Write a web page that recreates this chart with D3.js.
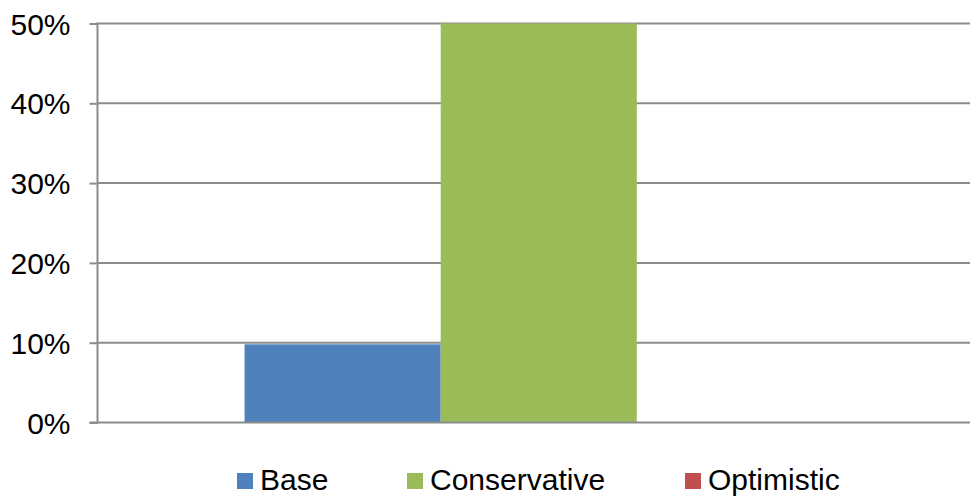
<!DOCTYPE html>
<html><head><meta charset="utf-8">
<script src="https://cdn.jsdelivr.net/npm/d3@7"></script>
<style>html,body{margin:0;padding:0;background:#fff;overflow:hidden}</style>
</head><body>
<svg id="c" width="970" height="497"></svg>
<script>
const categories = ["Scenario"];
const seriesNames = ["Base", "Conservative", "Optimistic"];
const seriesValues = [0.098, 0.50, 0.0];
const seriesColors = ["#4f81bd", "#9bbb59", "#c0504d"];
const yTicks = [0, 0.1, 0.2, 0.3, 0.4, 0.5];

(function () {
const svg = d3.select("#c");
const font = "'Liberation Sans', Arial, sans-serif";
const fs = 30;
const pLeft = 97.5, pRight = 980, pTop = 23.5, pBottom = 422.5;

const y = d3.scaleLinear().domain([0, 0.5]).range([pBottom, pTop]);
// Excel gap width 150%: category band = 3 bars + 1.5 bar gap
const x0 = d3.scaleBand().domain(categories).range([pLeft, pRight]).padding(0);
const barW = x0.bandwidth() / 4.5;
const x1 = d3.scaleBand().domain(seriesNames)
  .range([x0(categories[0]) + barW * 0.75, x0(categories[0]) + barW * 3.75]).padding(0);

const yAxis = d3.axisLeft(y).tickValues(yTicks).tickFormat(d3.format(".0%")).tickSize(8).tickPadding(19);
const gy = svg.append("g").attr("transform", `translate(${pLeft},0)`).call(yAxis);
gy.select(".domain").remove();
gy.selectAll(".tick line").attr("stroke", "#8c8c8c").attr("stroke-width", 2);
gy.selectAll(".tick text").attr("font-family", font).attr("font-size", fs).attr("fill", "#000").attr("dy", "0.35em");

svg.append("g").selectAll("line").data(yTicks.filter(d => d > 0)).join("line")
  .attr("x1", pLeft).attr("x2", pRight)
  .attr("y1", d => y(d)).attr("y2", d => y(d))
  .attr("stroke", "#8c8c8c").attr("stroke-width", 2);

svg.append("g").selectAll("rect").data(seriesNames.map((s, i) => ({s, v: seriesValues[i], c: seriesColors[i]})))
  .join("rect")
  .attr("x", d => x1(d.s))
  .attr("width", x1.bandwidth())
  .attr("y", d => y(d.v))
  .attr("height", d => y(0) - y(d.v))
  .attr("fill", d => d.c);

svg.append("line").attr("x1", pLeft).attr("x2", pLeft).attr("y1", pTop - 1).attr("y2", pBottom + 1)
  .attr("stroke", "#8c8c8c").attr("stroke-width", 2);
svg.append("line").attr("x1", pLeft - 8).attr("x2", pRight).attr("y1", pBottom).attr("y2", pBottom)
  .attr("stroke", "#8c8c8c").attr("stroke-width", 2);

const legendX = [237, 407, 685];
const lg = svg.append("g").selectAll("g").data(seriesNames).join("g")
  .attr("transform", (d, i) => `translate(${legendX[i]},473)`);
lg.append("rect").attr("width", 16).attr("height", 16).attr("fill", (d, i) => seriesColors[i]);
lg.append("text").attr("x", 23).attr("y", 17).attr("font-family", font).attr("font-size", fs)
  .attr("fill", "#000").text(d => d);
})();
</script>
</body></html>
